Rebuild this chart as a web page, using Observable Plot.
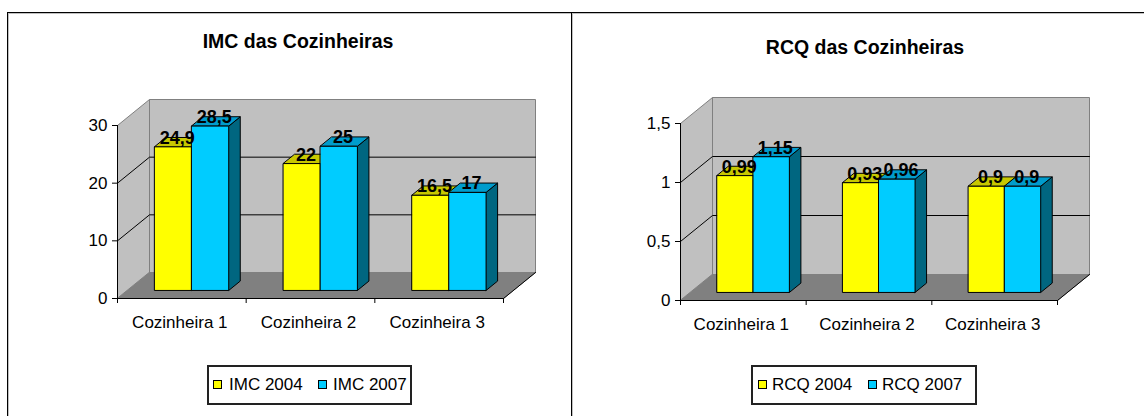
<!DOCTYPE html>
<html><head><meta charset="utf-8">
<script src="https://cdn.jsdelivr.net/npm/d3@7"></script>
<script src="https://cdn.jsdelivr.net/npm/@observablehq/plot@0.6"></script>
<style>
body{margin:0;background:#fff;}
#page{position:relative;width:1144px;height:416px;overflow:hidden;background:#fff;font-family:Arial,"Liberation Sans",sans-serif;color:#000;}
.ln{position:absolute;background:#000;}
.sh{position:absolute;background:#c0c0c0;}
.title{position:absolute;width:400px;text-align:center;font-weight:bold;font-size:19.5px;line-height:20px;white-space:nowrap;}
.chart{position:absolute;top:0;}
.legend{position:absolute;border:2px solid #222;box-sizing:border-box;height:40px;top:365px;}
.sw{position:absolute;width:9px;height:9px;border:1px solid #000;box-sizing:border-box;top:380px;}
.lt{position:absolute;font-size:17px;line-height:17px;top:376px;white-space:nowrap;}
</style>
</head><body>
<div id="page">
  <div class="ln" style="left:7px;top:12px;width:1px;height:404px"></div>
  <div class="sh" style="left:8px;top:13px;width:1px;height:403px"></div>
  <div class="ln" style="left:7px;top:12px;width:1137px;height:1px"></div>
  <div class="sh" style="left:8px;top:13px;width:1136px;height:1px"></div>
  <div class="ln" style="left:571px;top:12px;width:1px;height:404px"></div>
  <div class="sh" style="left:572px;top:13px;width:1px;height:403px"></div>
  <div class="title" style="left:98px;top:31px">IMC das Cozinheiras</div>
  <div class="title" style="left:665px;top:37px">RCQ das Cozinheiras</div>
  <div id="c1" class="chart" style="left:0px"></div>
  <div id="c2" class="chart" style="left:572px"></div>
  <div class="legend" style="left:207px;width:205px"></div>
  <div class="sw" style="left:213px;background:#ffff00"></div>
  <div class="lt" style="left:229px">IMC 2004</div>
  <div class="sw" style="left:318px;background:#00ccff"></div>
  <div class="lt" style="left:333px">IMC 2007</div>
  <div class="legend" style="left:751px;width:226px"></div>
  <div class="sw" style="left:758px;background:#ffff00"></div>
  <div class="lt" style="left:772px">RCQ 2004</div>
  <div class="sw" style="left:868px;background:#00ccff"></div>
  <div class="lt" style="left:882px">RCQ 2007</div>
</div>
<script>
// ---- data ----
const categories = ["Cozinheira 1", "Cozinheira 2", "Cozinheira 3"];
const imc2004 = [24.9, 22, 16.5];
const imc2007 = [28.5, 25, 17];
const rcq2004 = [0.99, 0.93, 0.9];
const rcq2007 = [1.15, 0.96, 0.9];
const imcTicks = [0, 10, 20, 30];
const rcqTicks = [0, 0.5, 1, 1.5];

const seriesColors = [
  {front: "#ffff00", top: "#c8c800", side: "#808000"},
  {front: "#00ccff", top: "#009ccc", side: "#006680"}
];
const fmt = d => String(d).replace(".", ",");

function chart({series, ticks, ml, mr, mt, mb}) {
  const W = 572, H = 340;
  const n = categories.length;
  const ymax = ticks[ticks.length - 1];
  const kx = n / (W - ml - mr), ky = ymax / (H - mt - mb);
  const DX = 32, DY = 26;      // full depth in pixels
  const F = 0.31, BD = 0.36;   // bar front depth, bar thickness (fraction of depth)
  const BW = 0.2875;           // bar width in band units
  const P = (x, y, t) => ({x: x + t * DX * kx, y: y + t * DY * ky});

  // walls & floor
  const walls = [];
  const poly = (id, pts, fill, stroke) => pts.forEach(p => walls.push({id, ...p, fill, stroke}));
  poly("side", [P(0, 0, 0), P(0, ymax, 0), P(0, ymax, 1), P(0, 0, 1)], "#c0c0c0");
  poly("back", [P(0, 0, 1), P(0, ymax, 1), P(n, ymax, 1), P(n, 0, 1)], "#c0c0c0");
  poly("floor", [P(0, 0, 0), P(n, 0, 0), P(n, 0, 1), P(0, 0, 1)], "#808080");

  const grid = [];
  ticks.filter(v => v > 0 && v < ymax).forEach(v => {
    [P(0, v, 0), P(0, v, 1), P(n, v, 1)].forEach(p => grid.push({id: v, ...p}));
  });
  const floorEdge = [P(n, 0, 0), P(n, 0, 1)];

  // bars
  const bars = [];
  const labels = [];
  series.forEach((vals, s) => {
    const c = seriesColors[s];
    vals.forEach((v, i) => {
      const x0 = i + 0.5 - BW + s * BW, x1 = x0 + BW;
      const add = (face, pts, fill) => pts.forEach(p => bars.push({id: `${s}-${i}-${face}`, ...p, fill}));
      add("side", [P(x1, 0, F), P(x1, 0, F + BD), P(x1, v, F + BD), P(x1, v, F)], c.side);
      add("top", [P(x0, v, F), P(x1, v, F), P(x1, v, F + BD), P(x0, v, F + BD)], c.top);
      add("front", [P(x0, 0, F), P(x1, 0, F), P(x1, v, F), P(x0, v, F)], c.front);
      labels.push({...P((x0 + x1) / 2, v, F), text: fmt(v)});
    });
  });

  return Plot.plot({
    width: W, height: H,
    marginLeft: ml, marginRight: mr, marginTop: mt, marginBottom: mb,
    x: {domain: [0, n], label: null},
    y: {domain: [0, ymax], label: null},
    color: {type: "identity"},
    style: {fontFamily: "Arial, 'Liberation Sans', sans-serif", fontSize: "17px", background: "transparent"},
    marks: [
      Plot.line(walls, {x: "x", y: "y", z: "id", fill: "fill", stroke: "#808080", strokeWidth: 1, curve: "linear-closed"}),
      Plot.line(grid, {x: "x", y: "y", z: "id", stroke: "#000", strokeWidth: 1}),
      Plot.line(floorEdge, {x: "x", y: "y", stroke: "#000", strokeWidth: 1}),
      Plot.line(bars, {x: "x", y: "y", z: "id", fill: "fill", stroke: "#000", strokeWidth: 1, curve: "linear-closed"}),
      Plot.ruleX([0], {y1: 0, y2: ymax, stroke: "#000"}),
      Plot.ruleY([0], {x1: 0, x2: n, stroke: "#000"}),
      Plot.axisY({ticks, tickSize: 5, tickPadding: 5, tickFormat: fmt, fontSize: 17, label: null}),
      Plot.axisX({ticks: d3.range(n + 1), tickSize: 5, tickFormat: () => "", label: null}),
      Plot.axisX({ticks: d3.range(n).map(i => i + 0.5), tickSize: 0, tickPadding: 17, dx: -2,
                  tickFormat: d => categories[Math.floor(d)], fontSize: 17, label: null}),
      Plot.text(labels, {x: "x", y: "y", text: "text", dx: 4, dy: -3, lineAnchor: "bottom",
                         fontSize: 18, fontWeight: "bold", fill: "#000"})
    ]
  });
}

document.getElementById("c1").appendChild(chart({series: [imc2004, imc2007], ticks: imcTicks, ml: 117, mr: 69, mt: 125, mb: 42}));
document.getElementById("c2").appendChild(chart({series: [rcq2004, rcq2007], ticks: rcqTicks, ml: 108, mr: 87, mt: 123, mb: 40}));
</script>
</body></html>
